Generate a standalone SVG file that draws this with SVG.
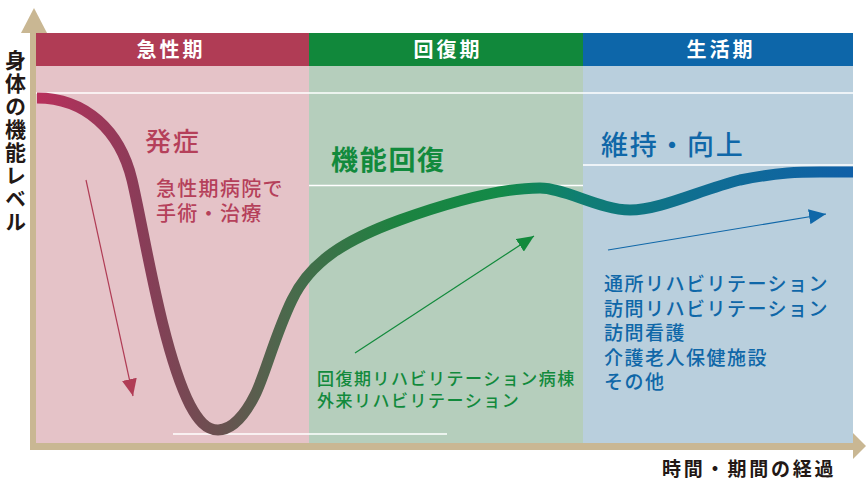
<svg xmlns="http://www.w3.org/2000/svg" width="866" height="482" viewBox="0 0 866 482">
<style>
text{font-family:"Noto Sans CJK JP","Noto Sans",sans-serif}
.hd{fill:#ffffff;font-size:20px;letter-spacing:3px;text-anchor:middle;font-weight:bold}
.ttl{font-size:27px;font-weight:bold;letter-spacing:1.7px}
.red{fill:#b5405a}
.grn{fill:#128a3c}
.blu{fill:#0f67a8}
.axl{fill:#231815;font-weight:bold}
.wl{stroke:#ffffff;stroke-width:1.6;fill:none}
.tan{fill:#c9b793}
</style>
<defs>
<linearGradient id="cg" gradientUnits="userSpaceOnUse" x1="37" y1="0" x2="853" y2="0">
<stop offset="0" stop-color="#b8305c"/>
<stop offset="0.126" stop-color="#8a3c58"/>
<stop offset="0.22" stop-color="#6b5050"/>
<stop offset="0.31" stop-color="#4a6a4c"/>
<stop offset="0.445" stop-color="#1c8340"/>
<stop offset="0.567" stop-color="#138a48"/>
<stop offset="0.665" stop-color="#0f7e72"/>
<stop offset="0.81" stop-color="#0f6e92"/>
<stop offset="1" stop-color="#1060a8"/>
</linearGradient>
<marker id="mr" markerUnits="userSpaceOnUse" markerWidth="17" markerHeight="15" refX="17" refY="7.5" orient="auto"><path d="M0,0 L17,7.5 L0,15 z" fill="#b03c55"/></marker>
<marker id="mg" markerUnits="userSpaceOnUse" markerWidth="17" markerHeight="15" refX="17" refY="7.5" orient="auto"><path d="M0,0 L17,7.5 L0,15 z" fill="#128a3c"/></marker>
<marker id="mb" markerUnits="userSpaceOnUse" markerWidth="17" markerHeight="15" refX="17" refY="7.5" orient="auto"><path d="M0,0 L17,7.5 L0,15 z" fill="#0f67a8"/></marker>
</defs>
<rect width="866" height="482" fill="#ffffff"/>
<g id="panels">
<rect x="36" y="66" width="273" height="377" fill="#e5c3c8"/>
<rect x="309" y="66" width="274" height="377" fill="#b5cebc"/>
<rect x="583" y="66" width="270" height="377" fill="#b9cfdd"/>
</g>
<g id="headers">
<rect x="36" y="33" width="273" height="33" fill="#b03c55"/>
<rect x="309" y="33" width="274" height="33" fill="#11883b"/>
<rect x="583" y="33" width="270" height="33" fill="#0d66a9"/>
<text class="hd" x="171" y="57">急性期</text>
<text class="hd" x="448" y="57">回復期</text>
<text class="hd" x="721" y="57">生活期</text>
</g>
<g id="guides">
<line class="wl" x1="36" y1="93" x2="853" y2="93"/>
<line class="wl" x1="309" y1="185.5" x2="583" y2="185.5"/>
<line class="wl" x1="583" y1="165" x2="853" y2="165"/>
<line class="wl" x1="173" y1="434" x2="447" y2="434"/>
</g>
<g id="axes">
<rect class="tan" x="30" y="30" width="6" height="420"/>
<polygon class="tan" points="21,33 34,8 47,33"/>
<rect class="tan" x="30" y="443" width="825" height="7"/>
<polygon class="tan" points="853,433 866,446 853,459"/>
</g>
<g id="curve">
<path d="M37,98 C85,98 120,130 132,180 C144,230 162,350 190,405 C198,420 206,430 218,430 C232,430 245,415 255,395 C265,375 275,335 292,300 C310,262 345,240 400,220 C450,202 500,188 540,188 C565,188 600,210 630,210 C660,210 700,190 740,180 C780,172 800,172 820,172 L853,172" fill="none" stroke="url(#cg)" stroke-width="11"/>
</g>
<g id="connectors" fill="none" stroke-width="1.2">
<line x1="86" y1="180" x2="133" y2="396" stroke="#b03c55" marker-end="url(#mr)"/>
<line x1="355" y1="353" x2="534" y2="236" stroke="#128a3c" marker-end="url(#mg)"/>
<line x1="608" y1="250" x2="826" y2="214" stroke="#0f67a8" marker-end="url(#mb)"/>
</g>
<g id="acute">
<text class="ttl red" x="145" y="151" style="font-weight:500;font-size:26px">発症</text>
<text class="red" x="156" y="196" style="font-size:20px;letter-spacing:1.3px;font-weight:500">急性期病院で</text>
<text class="red" x="156" y="221" style="font-size:20px;letter-spacing:1.3px;font-weight:500">手術・治療</text>
</g>
<g id="recovery">
<text class="ttl grn" x="331" y="170">機能回復</text>
<text class="grn" x="317" y="385" style="font-size:17px;letter-spacing:1.5px;font-weight:500">回復期リハビリテーション病棟</text>
<text class="grn" x="317" y="407" style="font-size:17px;letter-spacing:1.5px;font-weight:500">外来リハビリテーション</text>
</g>
<g id="life">
<text class="ttl blu" x="601" y="155" style="font-weight:500">維持・向上</text>
<g class="blu" style="font-size:19px;letter-spacing:1.5px;font-weight:500">
<text x="604" y="291">通所リハビリテーション</text>
<text x="604" y="316">訪問リハビリテーション</text>
<text x="604" y="340">訪問看護</text>
<text x="604" y="365">介護老人保健施設</text>
<text x="604" y="389">その他</text>
</g>
</g>
<g id="y-label">
<text class="axl" x="15.5" y="50" writing-mode="vertical-rl" style="font-size:21px;letter-spacing:2px">身体の機能レベル</text>
</g>
<g id="x-label">
<text class="axl" x="662" y="476" style="font-size:19px;letter-spacing:2.8px">時間・期間の経過</text>
</g>
</svg>
